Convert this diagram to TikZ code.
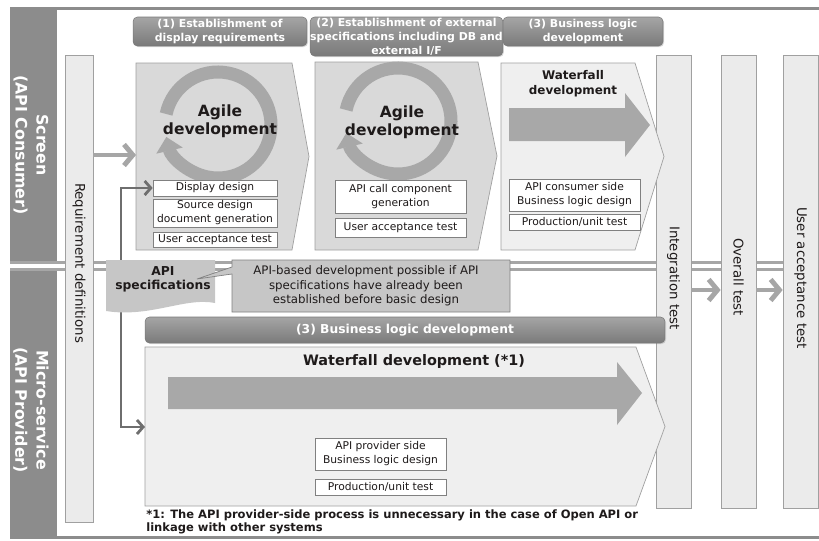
\documentclass[tikz,border=0pt]{standalone}
\usepackage{fontspec}
\setmainfont{DejaVu Sans}
\usetikzlibrary{arrows.meta,calc,shadows}

\definecolor{bandgray}{HTML}{8C8C8C}
\definecolor{lineg}{HTML}{A6A6A6}
\definecolor{barfill}{HTML}{EBEBEB}
\definecolor{barline}{HTML}{A0A0A0}
\definecolor{agilefill}{HTML}{D9D9D9}
\definecolor{wffill}{HTML}{EFEFEF}
\definecolor{ringg}{HTML}{A8A8A8}
\definecolor{hdrtop}{HTML}{A5A5A5}
\definecolor{hdrbot}{HTML}{7A7A7A}
\definecolor{linkg}{HTML}{6E6E6E}
\definecolor{specfill}{HTML}{C6C6C6}
\definecolor{textc}{HTML}{1E1A1A}

\begin{document}
\begin{tikzpicture}[x=0.02cm,y=-0.02cm,
  bandtxt/.style={rotate=-90,text=white,align=center,font=\bfseries\fontsize{9}{12}\selectfont},
  bar/.style={fill=barfill,draw=barline,line width=0.4pt,inner sep=0pt,minimum height=9.06cm},
  bartxt/.style={rotate=-90,text=textc,font=\fontsize{7.6}{9}\selectfont},
  hdr/.style={rounded corners=2.5pt,top color=hdrtop,bottom color=hdrbot,draw=hdrbot,line width=0.3pt,
    text=white,align=center,inner sep=0pt,font=\bfseries\fontsize{6.2}{8}\selectfont,
    drop shadow={shadow xshift=0.6pt,shadow yshift=-0.6pt,opacity=0.3}},
  agile/.style={fill=agilefill,draw=barline,line width=0.4pt},
  wfall/.style={fill=wffill,draw=barline,line width=0.4pt},
  ring/.style={draw=ringg,line width=7.4pt,-{Triangle[length=8pt,width=15pt]}},
  bigarrow/.style={fill=ringg},
  task/.style={draw=gray,fill=white,line width=0.4pt,inner sep=0pt,align=center,text=textc,
    font=\fontsize{6.1}{8}\selectfont},
  title/.style 2 args={text=textc,align=center,font=\bfseries\fontsize{#1}{#2}\selectfont},
  flow/.style={draw=lineg,line width=2.8pt,-{Straight Barb[length=5pt,width=12pt]}},
  link/.style={draw=linkg,line width=1.6pt,-{Straight Barb[length=3.5pt,width=8pt]}}]

\useasboundingbox (0,0) rectangle (819,541);

% frame and lanes
\fill[bandgray] (10,7) rectangle (819,10);
\fill[bandgray] (10,536) rectangle (819,539);
\fill[bandgray] (10,7) rectangle (57,261);
\fill[bandgray] (10,271) rectangle (57,539);
\draw[lineg,line width=2pt] (10,262.5) -- (819,262.5);
\draw[lineg,line width=2pt] (10,269.5) -- (819,269.5);

\node[bandtxt] (scrtxt) at (31,145) {Screen\\(API Consumer)};
\node[bandtxt] (mictxt) at (31,410) {Micro-service\\(API Provider)};

% phase bars
\node[bar,minimum width=0.56cm,minimum height=9.34cm] (req) at (79,288.5) {};
\node[bartxt] (reqtxt) at (79,263) {Requirement definitions};
\node[bar,minimum width=0.70cm] (integ) at (673.5,281.5) {};
\node[bartxt] (integtxt) at (673.5,278) {Integration test};
\node[bar,minimum width=0.70cm] (overall) at (738.5,281.5) {};
\node[bartxt] (overalltxt) at (738.5,277) {Overall test};
\node[bar,minimum width=0.70cm] (uatbar) at (800.5,281.5) {};
\node[bartxt] (uattxt) at (800.5,278) {User acceptance test};

% step headers
\node[hdr,minimum width=3.48cm,minimum height=0.58cm] (h1) at (220,31.5)
  {(1) Establishment of\\display requirements};
\node[hdr,minimum width=3.74cm,minimum height=0.78cm] (h2) at (406.5,36.5)
  {(2) Establishment of external\\specifications including DB and\\external I/F};
\node[hdr,minimum width=3.2cm,minimum height=0.58cm] (h3) at (583,31.5)
  {(3) Business logic\\development};

% agile 1
\filldraw[agile] (136,63) -- (292,63) -- (309,156.5) -- (292,250) -- (136,250) -- cycle;
\draw[ring] (218,125) ++(192:53) arc[start angle=192,end angle=527,radius=53];
\node[title={8.8}{10.4}] (ag1t) at (220,121) {Agile\\development};
\node[task,minimum width=2.48cm,minimum height=0.32cm] (disp) at (215,188) {Display design};
\node[task,minimum width=2.48cm,minimum height=0.56cm] (src) at (215,213) {Source design\\document generation};
\node[task,minimum width=2.48cm,minimum height=0.30cm] (uat1) at (215,239.5) {User acceptance test};

% agile 2
\filldraw[agile] (315,62) -- (478,62) -- (497,156) -- (478,250) -- (315,250) -- cycle;
\draw[ring] (398,121) ++(192:53) arc[start angle=192,end angle=527,radius=53];
\node[title={8.8}{10.4}] (ag2t) at (402,122) {Agile\\development};
\node[task,minimum width=2.62cm,minimum height=0.66cm] (apicall) at (400.5,196.5) {API call component\\generation};
\node[task,minimum width=2.62cm,minimum height=0.38cm] (uat2) at (400.5,227.5) {User acceptance test};

% waterfall, consumer side
\filldraw[wfall] (501,63) -- (635,63) -- (664,156.5) -- (635,250) -- (501,250) -- cycle;
\fill[bigarrow] (509,108) -- (625,108) -- (625,93) -- (650,125) -- (625,157) -- (625,141) -- (509,141) -- cycle;
\node[title={6.8}{8.5}] (wf1t) at (573,84) {Waterfall\\development};
\node[task,minimum width=2.62cm,minimum height=0.64cm] (cons) at (574.5,195) {API consumer side\\Business logic design};
\node[task,minimum width=2.62cm,minimum height=0.32cm] (prod1) at (574.5,222) {Production/unit test};

% waterfall, provider side
\node[hdr,minimum width=10.4cm,minimum height=0.52cm,font=\bfseries\fontsize{7}{8}\selectfont] (hlong) at (405,330)
  {(3) Business logic development};
\filldraw[wfall] (145,347) -- (636,347) -- (665,426.5) -- (636,506) -- (145,506) -- cycle;
\fill[bigarrow] (168,377) -- (617,377) -- (617,362) -- (642,393) -- (617,425) -- (617,409) -- (168,409) -- cycle;
\node[title={8.2}{10}] (wf2t) at (414,362) {Waterfall development (*1)};
\node[task,minimum width=2.62cm,minimum height=0.64cm] (prov) at (380.5,454) {API provider side\\Business logic design};
\node[task,minimum width=2.62cm,minimum height=0.32cm] (prod2) at (380.5,487) {Production/unit test};

% API specifications feed both lanes
\coordinate (fork) at (121,285);
\coordinate (mw) at (145,427);
\draw[link] (fork) |- (disp.west);
\draw[link] (fork) |- (mw);

\fill[specfill] (106,260) -- (215,260) -- (215,303) .. controls (185,297) and (150,318) .. (106,311) -- cycle;
\node[title={7}{8.1}] (spec) at (163,279.5) {API\\specifications};
\filldraw[fill=specfill,draw=gray,line width=0.4pt] (232,260) -- (510,260) -- (510,312) -- (232,312)
  -- (232,274) -- (197,279) -- (232,267) -- cycle;
\node[text=textc,align=center,font=\fontsize{6.7}{8.2}\selectfont] (note) at (366,286)
  {API-based development possible if API\\specifications have already been\\established before basic design};

% flow between phases
\coordinate (ag1w) at (136,155);
\coordinate (tline) at (0,290);
\draw[flow] (req.east |- ag1w) -- (ag1w);
\draw[flow] (integ.east |- tline) -- (overall.west |- tline);
\draw[flow] (overall.east |- tline) -- (uatbar.west |- tline);

\node[anchor=west,align=left,inner sep=0pt,text=textc,font=\bfseries\fontsize{6.55}{7.6}\selectfont] (fn) at (146,522)
  {*1: The API provider-side process is unnecessary in the case of Open API or\\linkage with other systems};

\end{tikzpicture}
\end{document}
